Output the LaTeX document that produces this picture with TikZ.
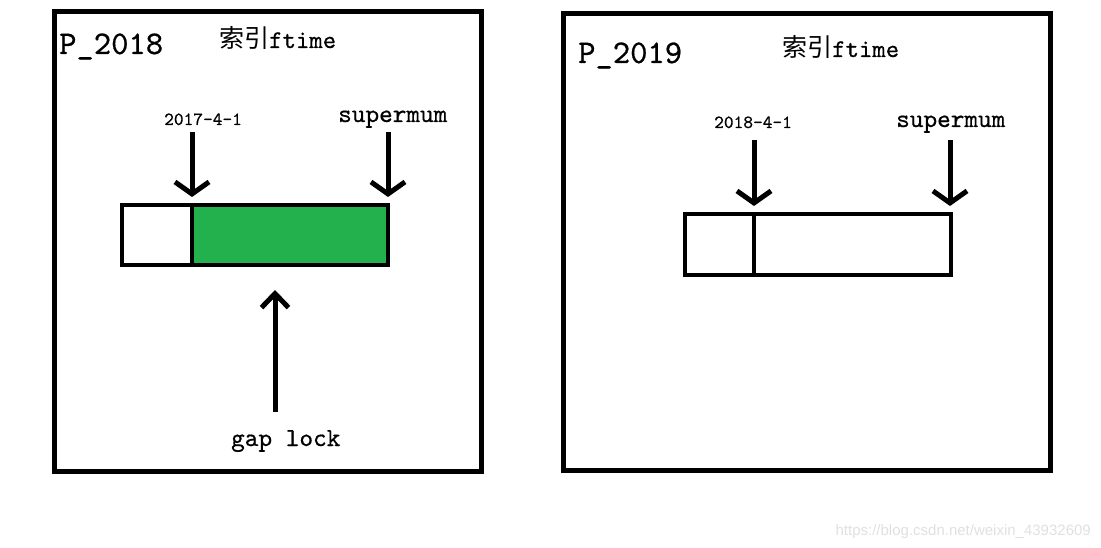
\documentclass[tikz,border=0pt]{standalone}
\usepackage{fontspec}
\newfontfamily\mono[FakeBold=0.6]{lmmono10-regular.otf}
\newfontfamily\cjk{Noto Sans CJK SC}
\newfontfamily\websans{Liberation Sans}
\usetikzlibrary{arrows.meta,positioning}
\definecolor{paintgreen}{HTML}{22B14C}
\begin{document}
\begin{tikzpicture}
  [x=1pt,y=-1pt,
   frame/.style={draw,line width=5pt},
   cell/.style={draw,rectangle,line width=4pt,inner sep=0pt,outer sep=0pt,minimum height=60pt},
   arr/.style={line width=5pt,-{Straight Barb[length=12pt,width=34pt]}},
   uparr/.style={line width=5pt,-{Straight Barb[length=14pt,width=27pt]}},
   title/.style={anchor=base west,inner sep=0pt,font=\mono\fontsize{33}{33}\selectfont},
   idx/.style={anchor=base west,inner sep=0pt,font=\mono\fontsize{25.5}{25.5}\selectfont},
   small/.style={anchor=base west,inner sep=0pt,font=\mono\fontsize{18.5}{18.5}\selectfont},
   big/.style={anchor=base west,inner sep=0pt,font=\mono\fontsize{26}{26}\selectfont}]
  \useasboundingbox (0,0) rectangle (1101,548);

  % P_2018
  \draw[frame] (54,12) rectangle (481.5,471.5);
  \node[title] (t1) at (59,54) {P\_2018};
  \node[idx] (i1) at (219,48) {{\cjk\fontsize{25}{25}\selectfont 索引}ftime};
  \node[small] (d1) at (164,125) {2017-4-1};
  \node[big] (s1) at (338,122) {supermum};
  \node[cell,minimum width=70pt] (a1) at (157,235) {};
  \node[cell,minimum width=196pt,fill=paintgreen,right=0pt of a1] (b1) {};
  \node[big] (g1) at (231,446) {gap lock};

  % P_2019
  \draw[frame] (563.5,13.5) rectangle (1050.5,470.5);
  \node[title] (t2) at (578,63) {P\_2019};
  \node[idx] (i2) at (782,57) {{\cjk\fontsize{25}{25}\selectfont 索引}ftime};
  \node[small] (d2) at (714,128) {2018-4-1};
  \node[big] (s2) at (896,127) {supermum};
  \node[cell,minimum width=69pt,minimum height=61pt] (a2) at (719.5,244.5) {};
  \node[cell,minimum width=197pt,minimum height=61pt,right=0pt of a2] (b2) {};

  \coordinate (p1) at (192,132);
  \coordinate (q1) at (388,132);
  \coordinate (p2) at (754,140);
  \coordinate (q2) at (950,140);
  \coordinate (gl) at (275,412);
  \foreach \from/\to in {p1/a1,q1/b1,p2/a2,q2/b2}
    \draw[arr,shorten >=8pt] (\from) -- (\from |- \to.north);
  \draw[uparr,shorten >=25pt] (gl) -- (gl |- b1.south);

  \node[anchor=base east,inner sep=0pt,text=black!12,font=\websans\fontsize{15}{15}\selectfont] (wm) at (1091,535) {https://blog.csdn.net/weixin\_43932609};
\end{tikzpicture}
\end{document}
